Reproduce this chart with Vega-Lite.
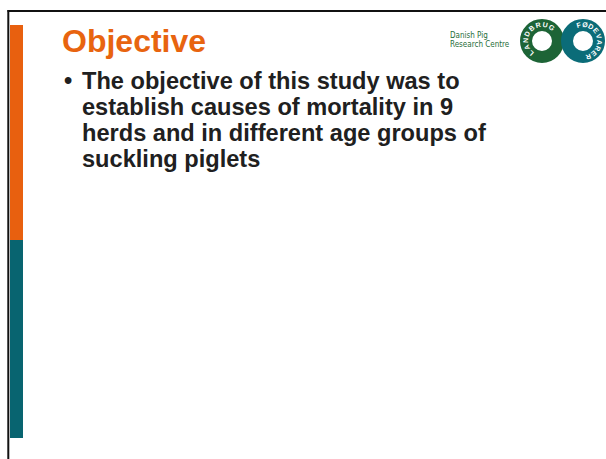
{
  "$schema": "https://vega.github.io/schema/vega-lite/v6.json",
  "width": 606,
  "height": 459,
  "padding": 0,
  "autosize": {"type": "none"},
  "background": "#ffffff",
  "config": {"view": {"stroke": null}},
  "datasets": {
    "frame": [
      {"x": 7.5, "x2": 606, "y": 11, "y2": 11},
      {"x": 8.3, "x2": 8.3, "y": 10, "y2": 459}
    ],
    "bars": [
      {"part": "objective", "x": 10, "x2": 23, "y": 25, "y2": 240},
      {"part": "content", "x": 10, "x2": 23, "y": 240, "y2": 438}
    ],
    "title": [{"text": "Objective", "x": 62, "y": 52}],
    "bullet": [{"text": "•", "x": 64, "y": 89}],
    "lines": [
      {"text": "The objective of this study was to", "x": 82, "y": 89},
      {"text": "establish causes of mortality in 9", "x": 82, "y": 115},
      {"text": "herds and in different age groups of", "x": 82, "y": 141},
      {"text": "suckling piglets", "x": 82, "y": 167}
    ],
    "org": [
      {"text": "Danish Pig", "x": 450, "y": 38},
      {"text": "Research Centre", "x": 450, "y": 46.5}
    ],
    "rings": [
      {"ring": "LANDBRUG", "x": 542, "y": 41},
      {"ring": "FØDEVARER", "x": 583, "y": 41}
    ],
    "letters": [
      {"text": "L", "x": 531.3, "y": 52.9, "rot": 222},
      {"text": "A", "x": 527.3, "y": 47.3, "rot": 247},
      {"text": "N", "x": 526.0, "y": 40.4, "rot": 272},
      {"text": "D", "x": 527.6, "y": 34.0, "rot": 296},
      {"text": "B", "x": 531.9, "y": 28.6, "rot": 321},
      {"text": "R", "x": 538.1, "y": 25.5, "rot": 346},
      {"text": "U", "x": 545.1, "y": 25.3, "rot": 11},
      {"text": "G", "x": 551.4, "y": 28.1, "rot": 36},
      {"text": "F", "x": 578.9, "y": 25.5, "rot": 345},
      {"text": "Ø", "x": 585.0, "y": 25.1, "rot": 7},
      {"text": "D", "x": 590.8, "y": 27.0, "rot": 29},
      {"text": "E", "x": 595.4, "y": 30.9, "rot": 51},
      {"text": "V", "x": 598.3, "y": 36.3, "rot": 73},
      {"text": "A", "x": 598.9, "y": 42.4, "rot": 95},
      {"text": "R", "x": 597.3, "y": 48.3, "rot": 117},
      {"text": "E", "x": 593.5, "y": 53.1, "rot": 139},
      {"text": "R", "x": 588.2, "y": 56.1, "rot": 161}
    ]
  },
  "layer": [
    {
      "data": {"name": "bars"},
      "mark": {"type": "rect"},
      "encoding": {
        "x": {"field": "x", "type": "quantitative", "scale": {"domain": [0, 606], "nice": false, "zero": false}, "axis": null},
        "x2": {"field": "x2"},
        "y": {"field": "y", "type": "quantitative", "scale": {"domain": [0, 459], "nice": false, "zero": false, "reverse": true}, "axis": null},
        "y2": {"field": "y2"},
        "fill": {"field": "part", "type": "nominal", "scale": {"domain": ["objective", "content"], "range": ["#E8600F", "#086470"]}, "legend": null}
      }
    },
    {
      "data": {"name": "frame"},
      "mark": {"type": "rule", "color": "#111111", "strokeWidth": 2},
      "encoding": {
        "x": {"field": "x", "type": "quantitative"},
        "x2": {"field": "x2"},
        "y": {"field": "y", "type": "quantitative"},
        "y2": {"field": "y2"}
      }
    },
    {
      "data": {"name": "title"},
      "mark": {"type": "text", "font": "Liberation Sans", "fontWeight": "bold", "fontSize": 32, "color": "#E8640F", "align": "left", "baseline": "alphabetic"},
      "encoding": {
        "x": {"field": "x", "type": "quantitative"},
        "y": {"field": "y", "type": "quantitative"},
        "text": {"field": "text"}
      }
    },
    {
      "data": {"name": "bullet"},
      "mark": {"type": "text", "font": "Liberation Sans", "fontWeight": "bold", "fontSize": 23.5, "color": "#202020", "align": "left", "baseline": "alphabetic"},
      "encoding": {
        "x": {"field": "x", "type": "quantitative"},
        "y": {"field": "y", "type": "quantitative"},
        "text": {"field": "text"}
      }
    },
    {
      "data": {"name": "lines"},
      "mark": {"type": "text", "font": "Liberation Sans", "fontWeight": "bold", "fontSize": 23.6, "color": "#202020", "align": "left", "baseline": "alphabetic"},
      "encoding": {
        "x": {"field": "x", "type": "quantitative"},
        "y": {"field": "y", "type": "quantitative"},
        "text": {"field": "text"}
      }
    },
    {
      "data": {"name": "org"},
      "mark": {"type": "text", "font": "DejaVu Sans Condensed", "fontSize": 8, "color": "#1F6E3A", "align": "left", "baseline": "alphabetic"},
      "encoding": {
        "x": {"field": "x", "type": "quantitative"},
        "y": {"field": "y", "type": "quantitative"},
        "text": {"field": "text"}
      }
    },
    {
      "data": {"name": "rings"},
      "mark": {"type": "point", "shape": "circle", "filled": false, "size": 1024, "strokeWidth": 12, "opacity": 1},
      "encoding": {
        "x": {"field": "x", "type": "quantitative"},
        "y": {"field": "y", "type": "quantitative"},
        "stroke": {"field": "ring", "type": "nominal", "scale": {"domain": ["LANDBRUG", "FØDEVARER"], "range": ["#1D6436", "#0B6C78"]}, "legend": null}
      }
    },
    {
      "data": {"name": "letters"},
      "mark": {"type": "text", "font": "Liberation Sans", "fontWeight": "bold", "fontSize": 7, "color": "#ffffff", "align": "center", "baseline": "middle"},
      "encoding": {
        "x": {"field": "x", "type": "quantitative"},
        "y": {"field": "y", "type": "quantitative"},
        "angle": {"field": "rot", "type": "quantitative", "scale": {"domain": [0, 360], "range": [0, 360]}},
        "text": {"field": "text"}
      }
    }
  ]
}
